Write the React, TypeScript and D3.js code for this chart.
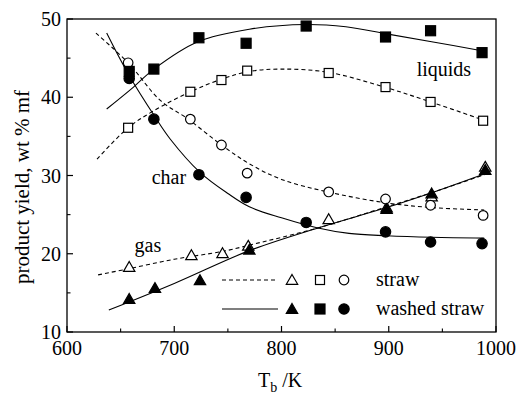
import React from "react";
import * as d3 from "d3";

const W = 517;
const H = 396;
const MARGIN = { top: 19, right: 21, bottom: 64, left: 67 };
const FONT = "'Liberation Serif', 'DejaVu Serif', serif";

// measured points, straw (open symbols)
const strawTemp = [658, 716, 745, 769, 844, 898, 940, 990];
const strawGas = [18.3, 19.8, 20.05, 21.0, 24.4, 25.9, 27.3, 31.1];
const strawLiqTemp = [657, 715, 744, 768, 844, 897, 939, 988];
const strawLiquids = [36.1, 40.7, 42.2, 43.4, 43.1, 41.3, 39.4, 37.0];
const strawChar = [44.4, 37.2, 33.9, 30.3, 27.9, 27.0, 26.2, 24.9];

// measured points, washed straw (filled symbols)
const washedGasTemp = [658, 682, 724, 770, 898, 940, 990];
const washedGas = [14.2, 15.6, 16.6, 20.5, 25.7, 27.7, 30.7];
const washedTemp = [658, 681, 723, 767, 823, 897, 939, 987];
const washedLiquids = [43.3, 43.6, 47.6, 46.9, 49.1, 47.7, 48.5, 45.7];
const washedChar = [42.4, 37.2, 30.1, 27.2, 24.0, 22.8, 21.5, 21.3];

// fitted trend lines
const fitStrawLiqT = [628, 657, 680, 715, 744, 770, 800, 843, 896, 939, 988];
const fitStrawLiq = [32.1, 36.1, 38.2, 40.7, 42.3, 43.3, 43.6, 43.2, 41.3, 39.4, 37.1];
const fitStrawCharT = [627, 657, 687, 713, 744, 770, 800, 843, 898, 940, 989];
const fitStrawChar = [48.2, 44.4, 39.6, 37.2, 33.9, 31.5, 29.5, 27.9, 26.5, 25.9, 25.6];
const fitStrawGasT = [629, 658, 700, 745, 770, 834, 898, 940, 989];
const fitStrawGas = [17.3, 18.1, 19.3, 20.3, 21.1, 23.3, 26.0, 27.8, 30.1];
const fitWashLiqT = [637, 662, 681, 722, 770, 823, 860, 898, 940, 988];
const fitWashLiq = [38.5, 41.3, 43.6, 47.1, 48.7, 49.3, 49.0, 48.1, 47.1, 45.9];
const fitWashCharT = [637, 657, 682, 696, 724, 750, 770, 800, 834, 863, 898, 940, 989];
const fitWashChar = [48.2, 43.0, 37.5, 34.7, 30.4, 27.7, 26.0, 24.6, 23.3, 22.6, 22.3, 22.1, 22.0];
const fitWashGasT = [639, 700, 770, 834, 898, 940, 989];
const fitWashGas = [12.8, 16.2, 20.4, 23.3, 25.9, 27.8, 30.2];

const xTicks = [600, 700, 800, 900, 1000];
const xMinor = [650, 750, 850, 950];
const yTicks = [10, 20, 30, 40, 50];
const yMinor = [15, 25, 35, 45];

const zip = (xs: number[], ys: number[]) => xs.map((x, i) => [x, ys[i]] as [number, number]);

const txt = { fontFamily: FONT };

const App = () => {
  const boundsWidth = W - MARGIN.left - MARGIN.right;
  const boundsHeight = H - MARGIN.top - MARGIN.bottom;

  const xScale = d3.scaleLinear().domain([600, 1000]).range([0, boundsWidth]);
  const yScale = d3.scaleLinear().domain([10, 50]).range([boundsHeight, 0]);

  const line = d3
    .line<[number, number]>()
    .x((d) => xScale(d[0]))
    .y((d) => yScale(d[1]))
    .curve(d3.curveCatmullRom.alpha(0.5));

  const tri = d3.symbol(d3.symbolTriangle, 56)() || "";

  const dash = "4,3";
  const fits = [
    { pts: zip(fitStrawLiqT, fitStrawLiq), dashed: true },
    { pts: zip(fitStrawCharT, fitStrawChar), dashed: true },
    { pts: zip(fitStrawGasT, fitStrawGas), dashed: true },
    { pts: zip(fitWashLiqT, fitWashLiq), dashed: false },
    { pts: zip(fitWashCharT, fitWashChar), dashed: false },
    { pts: zip(fitWashGasT, fitWashGas), dashed: false },
  ];

  const triangle = (cx: number, cy: number, filled: boolean, key: string) => (
    <path key={key} d={tri} transform={`translate(${cx},${cy + 1})`}
      fill={filled ? "#000" : "#fff"} stroke="#000" strokeWidth={1.2} />
  );
  const square = (cx: number, cy: number, filled: boolean, key: string) => {
    const s = filled ? 10 : 9;
    return (
      <rect key={key} x={cx - s / 2} y={cy - s / 2} width={s} height={s}
        fill={filled ? "#000" : "#fff"} stroke="#000" strokeWidth={1.2} />
    );
  };
  const circle = (cx: number, cy: number, filled: boolean, key: string) => (
    <circle key={key} cx={cx} cy={cy} r={filled ? 5.2 : 4.8}
      fill={filled ? "#000" : "#fff"} stroke="#000" strokeWidth={1.2} />
  );

  const lx0 = 222 - MARGIN.left;
  const lx1 = 278 - MARGIN.left;
  const ly1 = 280 - MARGIN.top;
  const ly2 = 309 - MARGIN.top;

  return (
    <svg width={W} height={H} style={{ position: "absolute", left: 0, top: 0, background: "#fff" }}>
      <g transform={`translate(${MARGIN.left},${MARGIN.top})`}>
        {fits.map((f, i) => (
          <path key={i} d={line(f.pts) || ""} fill="none" stroke="#000"
            strokeWidth={1.1} strokeDasharray={f.dashed ? dash : undefined} />
        ))}

        {strawTemp.map((t, i) => triangle(xScale(t), yScale(strawGas[i]), false, `sg${i}`))}
        {strawLiqTemp.map((t, i) => square(xScale(t), yScale(strawLiquids[i]), false, `sl${i}`))}
        {strawLiqTemp.map((t, i) => circle(xScale(t), yScale(strawChar[i]), false, `sc${i}`))}
        {washedTemp.map((t, i) => square(xScale(t), yScale(washedLiquids[i]), true, `wl${i}`))}
        {washedTemp.map((t, i) => circle(xScale(t), yScale(washedChar[i]), true, `wc${i}`))}
        {washedGasTemp.map((t, i) => triangle(xScale(t), yScale(washedGas[i]), true, `wg${i}`))}

        {/* frame and inward ticks */}
        <rect x={0} y={0} width={boundsWidth} height={boundsHeight} fill="none" stroke="#000" strokeWidth={1.3} />
        {xTicks.map((t) => (
          <g key={`xt${t}`}>
            <line x1={xScale(t)} x2={xScale(t)} y1={boundsHeight} y2={boundsHeight - 6} stroke="#000" strokeWidth={1.2} />
            <text x={xScale(t)} y={boundsHeight + 23} textAnchor="middle" fontSize={20} style={txt}>{t}</text>
          </g>
        ))}
        {xMinor.map((t) => (
          <line key={`xm${t}`} x1={xScale(t)} x2={xScale(t)} y1={boundsHeight} y2={boundsHeight - 3.5} stroke="#000" strokeWidth={1.1} />
        ))}
        {yTicks.map((t) => (
          <g key={`yt${t}`}>
            <line x1={0} x2={6} y1={yScale(t)} y2={yScale(t)} stroke="#000" strokeWidth={1.2} />
            <text x={-6} y={yScale(t) + 7} textAnchor="end" fontSize={20} style={txt}>{t}</text>
          </g>
        ))}
        {yMinor.map((t) => (
          <line key={`ym${t}`} x1={0} x2={3.5} y1={yScale(t)} y2={yScale(t)} stroke="#000" strokeWidth={1.1} />
        ))}

        {/* curve labels */}
        <text x={xScale(926)} y={yScale(42.7)} fontSize={20} style={txt}>liquids</text>
        <text x={xScale(679)} y={yScale(28.9)} fontSize={20} style={txt}>char</text>
        <text x={xScale(663)} y={yScale(20.2)} fontSize={20} style={txt}>gas</text>

        {/* legend */}
        <line x1={lx0} x2={lx1} y1={ly1} y2={ly1} stroke="#000" strokeWidth={1.1} strokeDasharray={dash} />
        {triangle(292 - MARGIN.left, ly1, false, "lt1")}
        {square(320 - MARGIN.left, ly1, false, "ls1")}
        {circle(344 - MARGIN.left, ly1, false, "lc1")}
        <text x={376 - MARGIN.left} y={ly1 + 6} fontSize={20} style={txt}>straw</text>
        <line x1={lx0} x2={lx1} y1={ly2} y2={ly2} stroke="#000" strokeWidth={1.1} />
        {triangle(292 - MARGIN.left, ly2, true, "lt2")}
        {square(320 - MARGIN.left, ly2, true, "ls2")}
        {circle(344 - MARGIN.left, ly2, true, "lc2")}
        <text x={376 - MARGIN.left} y={ly2 + 6} fontSize={20} style={txt}>washed straw</text>
      </g>

      {/* axis titles */}
      <text x={258} y={387} fontSize={20} style={txt}>
        T<tspan fontSize={14} dy={5}>b</tspan><tspan dy={-5}> /K</tspan>
      </text>
      <text transform="translate(29,187) rotate(-90)" textAnchor="middle" fontSize={21} style={txt}>
        product yield, wt % mf
      </text>
    </svg>
  );
};

export default App;
